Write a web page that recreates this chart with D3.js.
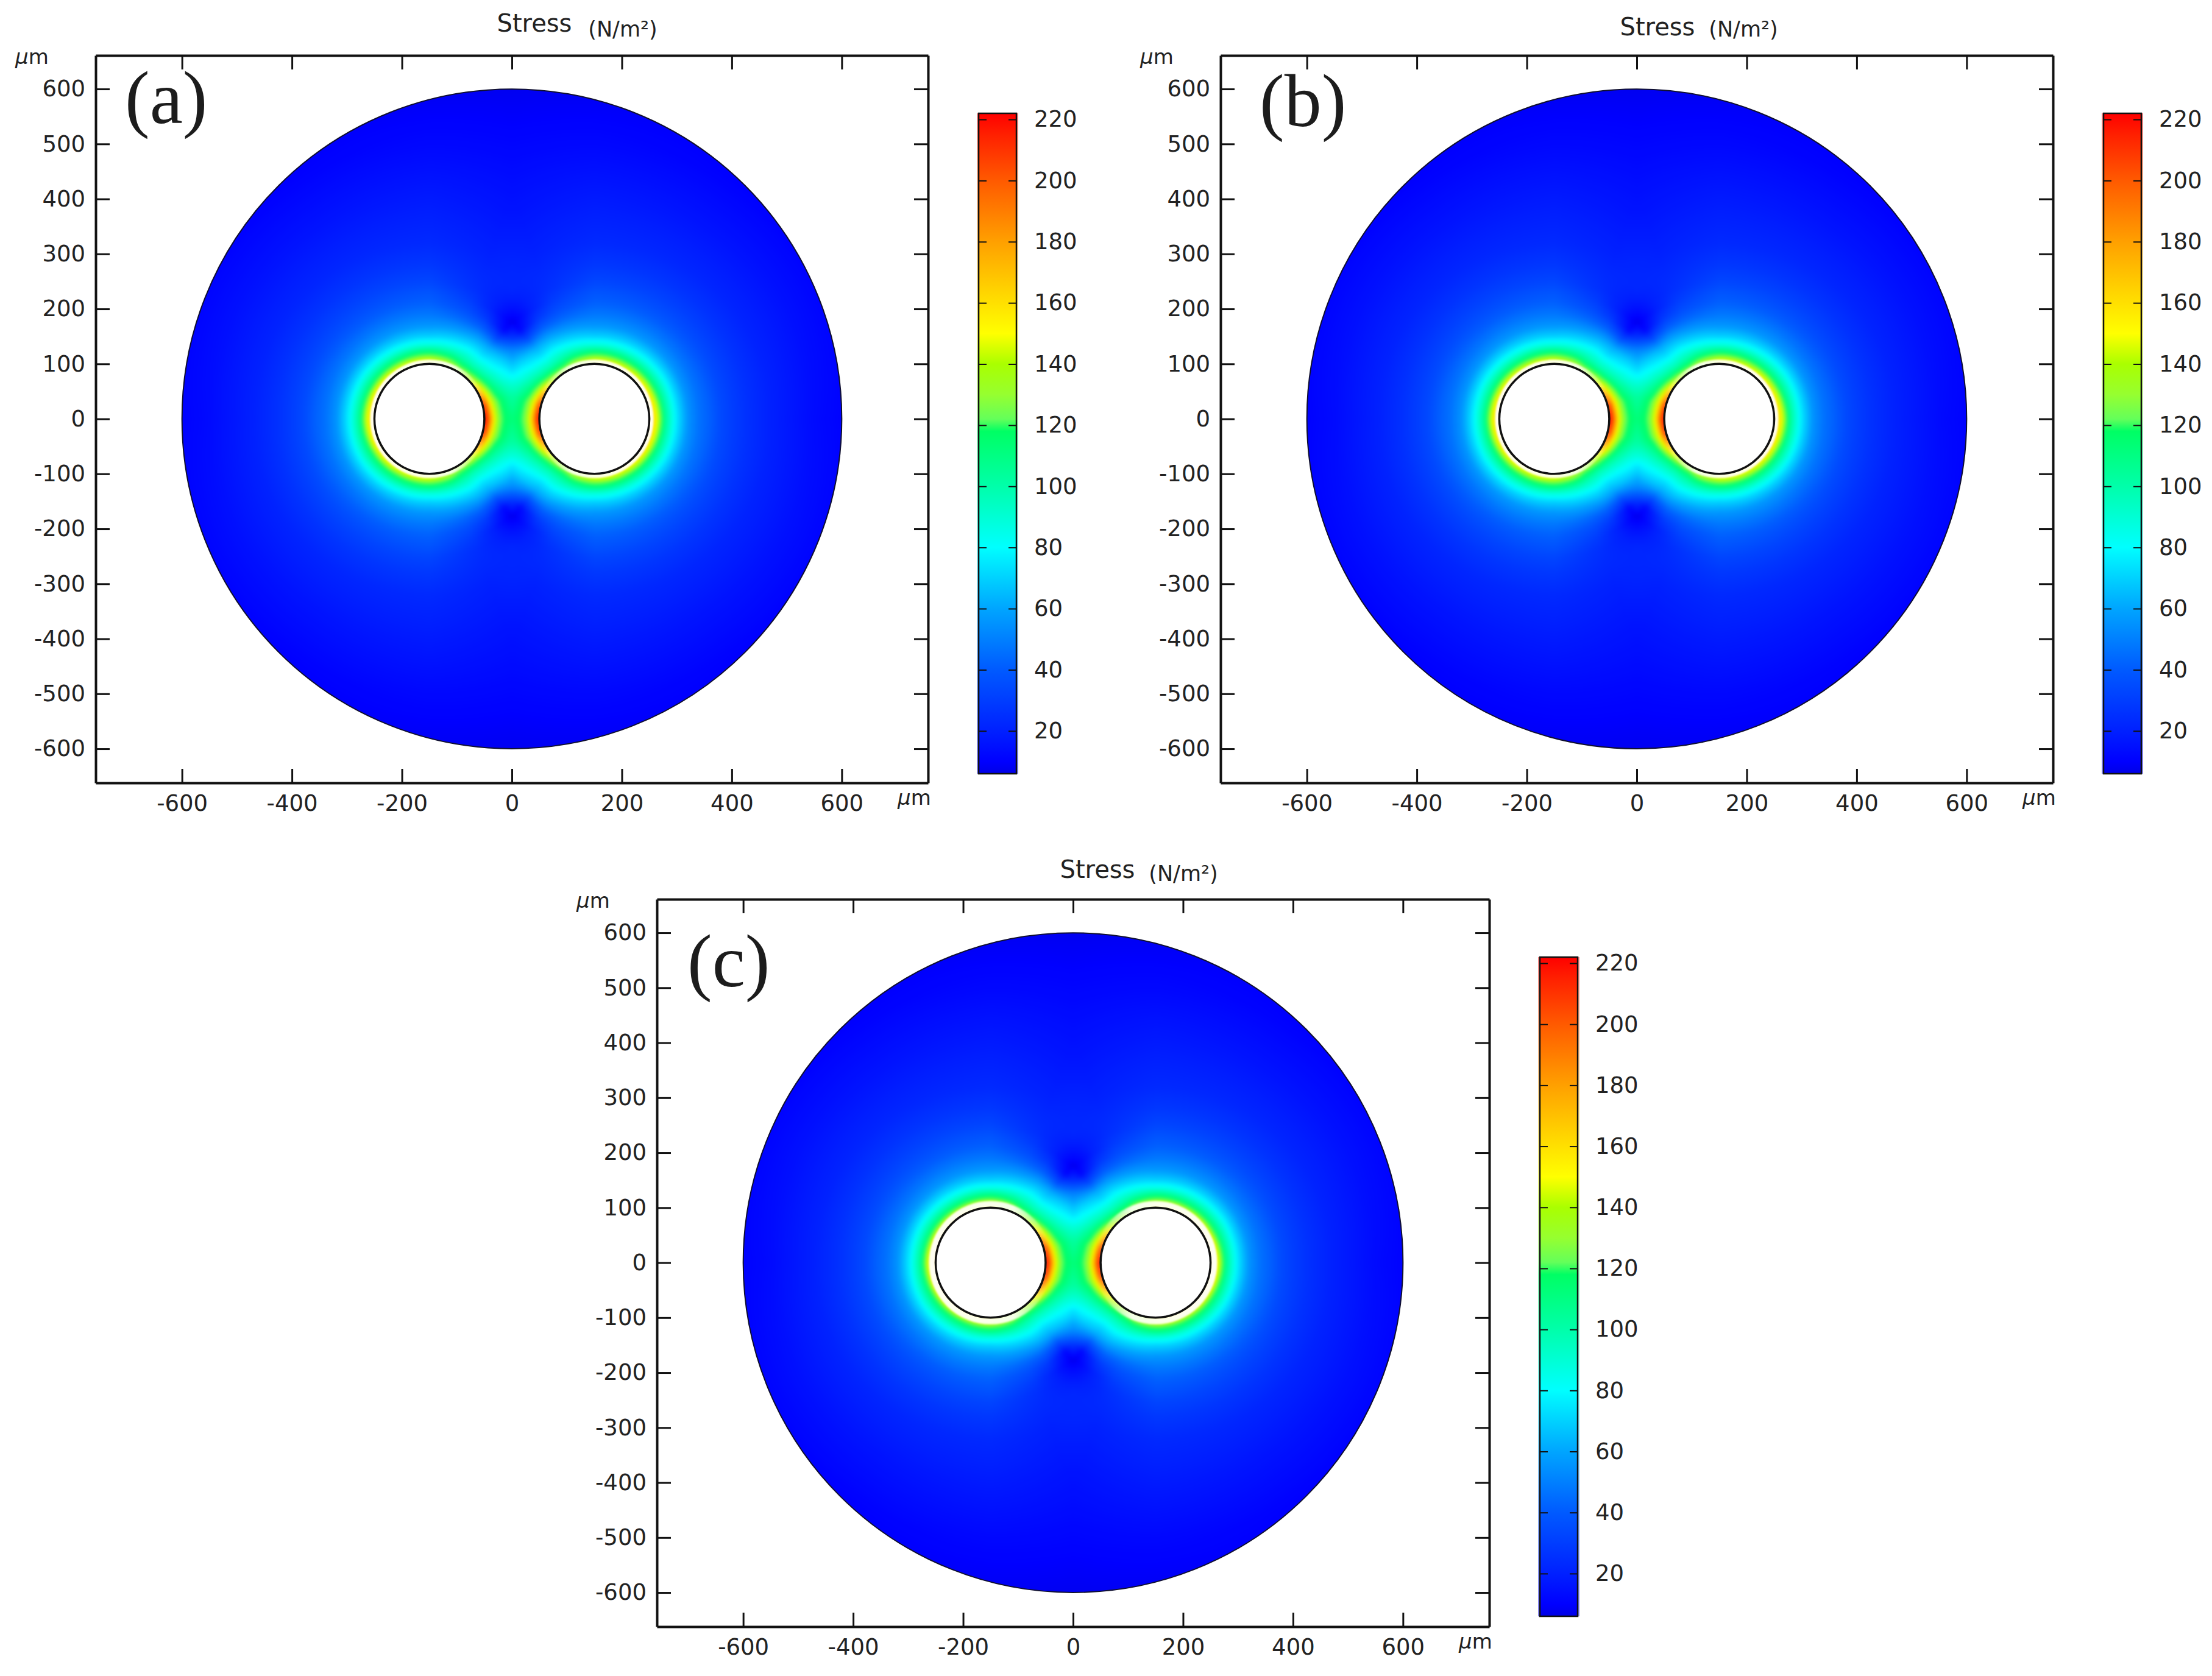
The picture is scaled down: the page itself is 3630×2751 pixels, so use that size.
<!DOCTYPE html>
<html>
<head>
<meta charset="utf-8">
<script src="https://cdn.jsdelivr.net/npm/d3@7"></script>
<style>
  html, body { margin: 0; background: #fff; }
  text { font-family: "DejaVu Sans", sans-serif; fill: #222; }
</style>
</head>
<body>
<svg id="chart" width="3630" height="2751"></svg>
<script>
// Tick values
const xTicks = [-600, -400, -200, 0, 200, 400, 600];
const yTicks = [-600, -500, -400, -300, -200, -100, 0, 100, 200, 300, 400, 500, 600];
const barTicks = [20, 40, 60, 80, 100, 120, 140, 160, 180, 200, 220];

// Colour bar reading: stress value -> colour
const stopValues = [6, 10, 20, 40, 60, 78, 80, 100, 118, 122, 130, 140, 150, 160, 180, 200, 215, 222];
const stopColors = ['#0000e6', '#0000ff', '#0020ff', '#005aff', '#00a5ff', '#00f5ff', '#00ffff', '#00ffaa', '#00ff64',
  '#64ff5a', '#96ff30', '#aaff00', '#ffff00', '#ffe000', '#ffa000', '#ff5a00', '#ff2000', '#ff0000'];

// Geometry of the model in um
const discRadius = 600;
const holeCentre = 150;
const holeRadius = 100;

// Stress, around the hole at x = +150.
// Columns are angles from the outward direction, rows are distances from the hole centre.
const angles = [0, 30, 60, 90, 110, 120, 130, 140, 150, 165, 180];
const radii = [100, 104, 108, 113, 118, 125, 135, 150, 170, 190, 210, 230, 250, 280, 320, 400, 500, 620];
const stress = [
  [168, 168, 155, 150, 140, 135, 140, 150, 178, 212, 220],
  [164, 162, 152, 148, 136, 132, 135, 145, 168, 200, 212],
  [158, 154, 146, 145, 132, 126, 128, 135, 155, 182, 195],
  [150, 142, 134, 132, 125, 118, 118, 124, 138, 160, 172],
  [132, 124, 120, 120, 116, 110, 110, 114, 124, 142, 150],
  [112, 110, 108, 108, 104, 100, 98, 103, 112, 125, 128],
  [95, 94, 90, 88, 90, 90, 88, 92, 100, 115, 118],
  [74, 74, 72, 70, 74, 76, 74, 80, 88, 104, 112],
  [55, 56, 56, 56, 58, 60, 60, 68, 76, 100, 112],
  [46, 47, 48, 48, 44, 42, 35, 54, 65, 95, 108],
  [41, 41, 41, 42, 35, 28, 12, 42, 50, 80, 90],
  [34, 35, 36, 38, 29, 20, 7, 30, 40, 65, 70],
  [30, 31, 32, 33, 25, 20, 12, 24, 30, 45, 50],
  [25, 26, 27, 28, 23, 22, 22, 22, 24, 30, 32],
  [20, 21, 22, 23, 20, 22, 22, 21, 21, 22, 22],
  [13, 15, 16, 18, 16, 17, 17, 17, 17, 17, 17],
  [8, 9, 10, 12, 12, 12, 12, 12, 12, 12, 12],
  [7, 7, 7, 7, 8, 8, 8, 8, 8, 8, 8]
];

// One entry per panel, only the position changes
const panels = [
  { name: '(a)', left: 157, top: 91, labelX: 205, labelY: 202, titleX: 877, titleY: 52, unitX: 1022, unitY: 60, barTop: 186, barBottom: 1270, halo: 7 },
  { name: '(b)', left: 2003, top: 91, labelX: 2067, labelY: 207, titleX: 2720, titleY: 58, unitX: 2861, unitY: 60, barTop: 186, barBottom: 1270, halo: 7 },
  { name: '(c)', left: 1078, top: 1476, labelX: 1128, labelY: 1619, titleX: 1801, titleY: 1441, unitX: 1942, unitY: 1446, barTop: 1571, barBottom: 2653, halo: 11 }
];

const panelW = 1366;
const panelH = 1194;

const svg = d3.select('#chart');
const defs = svg.append('defs');

const color = d3.scaleLinear().domain(stopValues).range(stopColors).interpolate(d3.interpolateRgb).clamp(true);

// Colour lookup so the pixel loop stays fast
const lut = d3.range(0, 921).map(i => d3.rgb(color(i / 4)));

const radiusPos = d3.scaleLinear().domain(radii).range(d3.range(radii.length)).clamp(true);
const anglePos = d3.scaleLinear().domain(angles).range(d3.range(angles.length)).clamp(true);

// Look up the table at a point, mirrored into the x > 0, y > 0 quadrant
function stressAt(xv, yv) {
  const dx = Math.abs(xv) - holeCentre;
  const dy = Math.abs(yv);
  const ri = radiusPos(Math.hypot(dx, dy));
  const ai = anglePos(Math.atan2(dy, dx) * 180 / Math.PI);
  const r0 = Math.min(Math.floor(ri), radii.length - 2);
  const a0 = Math.min(Math.floor(ai), angles.length - 2);
  const fr = ri - r0;
  const fa = ai - a0;
  return (stress[r0][a0] * (1 - fa) + stress[r0][a0 + 1] * fa) * (1 - fr) +
    (stress[r0 + 1][a0] * (1 - fa) + stress[r0 + 1][a0 + 1] * fa) * fr;
}

// Paint the table into a canvas and hand it back as a data url
function fieldImage(x, y) {
  const x0 = Math.floor(x(-discRadius)) - 4;
  const y0 = Math.floor(y(discRadius)) - 4;
  const w = Math.ceil(x(discRadius)) + 4 - x0;
  const h = Math.ceil(y(-discRadius)) + 4 - y0;
  const raw = document.createElement('canvas');
  raw.width = w;
  raw.height = h;
  const ctx = raw.getContext('2d');
  const img = ctx.createImageData(w, h);
  for (let j = 0; j < h; j++) {
    const yv = y.invert(y0 + j);
    for (let i = 0; i < w; i++) {
      const c = lut[Math.round(stressAt(x.invert(x0 + i), yv) * 4)];
      const k = (j * w + i) * 4;
      img.data[k] = c.r;
      img.data[k + 1] = c.g;
      img.data[k + 2] = c.b;
      img.data[k + 3] = 255;
    }
  }
  ctx.putImageData(img, 0, 0);
  // soften the table's grid lines
  const out = document.createElement('canvas');
  out.width = w;
  out.height = h;
  const octx = out.getContext('2d');
  octx.drawImage(raw, 0, 0);
  octx.filter = 'blur(3px)';
  octx.drawImage(raw, 0, 0);
  return { href: out.toDataURL('image/png'), x: x0, y: y0, w, h };
}

// Pale halo outside the hole rim, fades out towards the gap between the holes
[['haloRight', '0%', '100%'], ['haloLeft', '100%', '0%']].forEach(([id, x1, x2]) => {
  const g = defs.append('linearGradient').attr('id', id).attr('x1', x1).attr('x2', x2).attr('y1', '0%').attr('y2', '0%');
  g.append('stop').attr('offset', '0%').attr('stop-color', '#fff').attr('stop-opacity', 0);
  g.append('stop').attr('offset', '30%').attr('stop-color', '#fff').attr('stop-opacity', 0.9);
  g.append('stop').attr('offset', '100%').attr('stop-color', '#fff').attr('stop-opacity', 0.95);
});
defs.append('filter').attr('id', 'soft').append('feGaussianBlur').attr('stdDeviation', 1.5);

// Colour bar gradient, top to bottom
const barGrad = defs.append('linearGradient').attr('id', 'barGrad').attr('x1', 0).attr('x2', 0).attr('y1', 1).attr('y2', 0);
stopValues.forEach((v, i) => {
  barGrad.append('stop')
    .attr('offset', (v - stopValues[0]) / (stopValues[stopValues.length - 1] - stopValues[0]))
    .attr('stop-color', stopColors[i]);
});

function muLabel(g, px, py) {
  const t = g.append('text').attr('x', px).attr('y', py).style('font-size', '34px');
  t.append('tspan').style('font-style', 'italic').text('\u03bc');
  t.append('tspan').text('m');
}

panels.forEach((p, n) => {
  const g = svg.append('g').attr('transform', `translate(${p.left},${p.top})`);

  const x = d3.scaleLinear().domain([-757, 757]).range([0, panelW]);
  const y = d3.scaleLinear().domain([-662, 661]).range([panelH, 0]);

  // The disc
  const clipId = `disc${n}`;
  defs.append('clipPath').attr('id', clipId).append('circle')
    .attr('cx', x(0)).attr('cy', y(0)).attr('r', x(discRadius) - x(0));

  const f = fieldImage(x, y);
  g.append('image')
    .attr('href', f.href)
    .attr('x', f.x).attr('y', f.y).attr('width', f.w).attr('height', f.h)
    .attr('clip-path', `url(#${clipId})`);

  g.append('circle')
    .attr('cx', x(0)).attr('cy', y(0)).attr('r', x(discRadius) - x(0))
    .attr('fill', 'none').attr('stroke', '#101030').attr('stroke-width', 2);

  // The two holes
  [-holeCentre, holeCentre].forEach(c => {
    g.append('circle')
      .attr('cx', x(c)).attr('cy', y(0)).attr('r', x(holeRadius) - x(0) + p.halo / 2)
      .attr('fill', 'none')
      .attr('stroke', `url(#${c > 0 ? 'haloRight' : 'haloLeft'})`)
      .attr('stroke-width', p.halo)
      .attr('filter', 'url(#soft)');
    g.append('circle')
      .attr('cx', x(c)).attr('cy', y(0)).attr('r', x(holeRadius) - x(0))
      .attr('fill', '#fff').attr('stroke', '#111').attr('stroke-width', 3.5);
  });

  // Axes on all four sides, ticks point inwards
  const tick = 23;
  g.append('g').attr('class', 'axis').attr('transform', `translate(0,${panelH})`)
    .call(d3.axisBottom(x).tickValues(xTicks).tickSizeInner(-tick).tickSizeOuter(0).tickPadding(20).tickFormat(String));
  g.append('g').attr('class', 'axis')
    .call(d3.axisTop(x).tickValues(xTicks).tickSizeInner(-tick).tickSizeOuter(0).tickFormat(''));
  g.append('g').attr('class', 'axis')
    .call(d3.axisLeft(y).tickValues(yTicks).tickSizeInner(-tick).tickSizeOuter(0).tickPadding(17).tickFormat(String));
  g.append('g').attr('class', 'axis').attr('transform', `translate(${panelW},0)`)
    .call(d3.axisRight(y).tickValues(yTicks).tickSizeInner(-tick).tickSizeOuter(0).tickFormat(''));
  g.selectAll('.axis path').attr('stroke', '#111').attr('stroke-width', 4);
  g.selectAll('.axis line').attr('stroke', '#111').attr('stroke-width', 3);
  g.selectAll('.axis text').style('font-size', '37px').attr('fill', '#222');

  // Axis units
  muLabel(g, -132, 14);
  muLabel(g, panelW - 50, panelH + 36);

  // Colour bar
  const barLeft = p.left + 1449;
  const barW = 62;
  const barValue = d3.scaleLinear().domain([6, 222]).range([p.barBottom, p.barTop]);
  const bar = svg.append('g').attr('transform', `translate(${barLeft},0)`);
  bar.append('rect')
    .attr('x', -3).attr('y', p.barTop).attr('width', barW + 6).attr('height', p.barBottom - p.barTop)
    .attr('fill', 'url(#barGrad)').attr('opacity', 0.45);
  bar.append('rect')
    .attr('x', 0).attr('y', p.barTop).attr('width', barW).attr('height', p.barBottom - p.barTop)
    .attr('fill', 'url(#barGrad)').attr('stroke', '#111').attr('stroke-width', 2.5);
  bar.append('g').attr('class', 'barAxis').attr('transform', `translate(${barW},0)`)
    .call(d3.axisRight(barValue).tickValues(barTicks).tickSizeInner(-13).tickSizeOuter(0).tickPadding(29).tickFormat(String));
  bar.append('g').attr('class', 'barAxis')
    .call(d3.axisLeft(barValue).tickValues(barTicks).tickSizeInner(-13).tickSizeOuter(0).tickFormat(''));
  bar.selectAll('.barAxis path').remove();
  bar.selectAll('.barAxis line').attr('stroke', '#111').attr('stroke-width', 2);
  bar.selectAll('.barAxis text').style('font-size', '37px').attr('fill', '#222');

  // Title, unit and panel letter
  svg.append('text').attr('x', p.titleX).attr('y', p.titleY).attr('text-anchor', 'middle')
    .style('font-size', '40px').text('Stress');
  svg.append('text').attr('x', p.unitX).attr('y', p.unitY).attr('text-anchor', 'middle')
    .style('font-size', '35px').text('(N/m\u00b2)');
  svg.append('text').attr('x', p.labelX).attr('y', p.labelY)
    .style('font-family', '"Liberation Serif", serif').style('font-size', '122px').style('fill', '#1c1c1c')
    .text(p.name);
});
</script>
</body>
</html>
